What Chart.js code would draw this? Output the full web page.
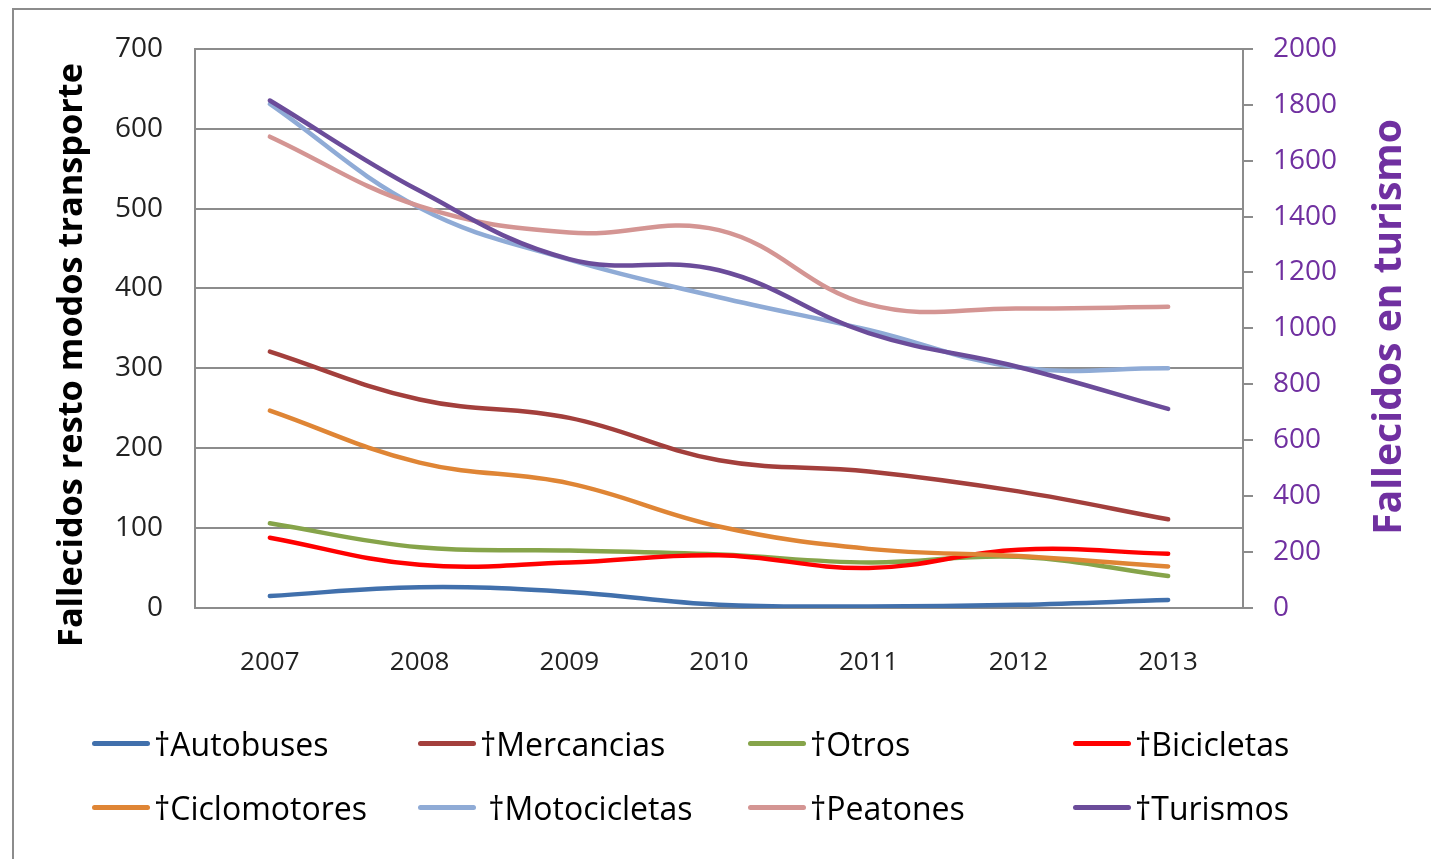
<!DOCTYPE html>
<html>
<head>
<meta charset="utf-8">
<script src="https://cdn.jsdelivr.net/npm/chart.js@4.4.0/dist/chart.umd.min.js"></script>
<style>
  html, body { margin: 0; padding: 0; background: #fff; overflow: hidden; }
  #wrap { position: relative; width: 1431px; height: 859px; font-family: "Open Sans", sans-serif; }
  #frame { position: absolute; left: 12px; top: 8px; width: 1500px; height: 900px; border: 2px solid #8c8c8c; }
  #chartBox { position: absolute; left: 0; top: 0; width: 1431px; height: 859px; }
  .item { position: absolute; display: flex; align-items: center; font-size: 32px; color: #000; white-space: pre; }
  .swatch { width: 58px; height: 5px; border-radius: 3px; margin-right: 4px; }
</style>
</head>
<body>
<div id="wrap">
  <div id="frame"></div>
  <div id="chartBox"><canvas id="fallecidosChart"></canvas></div>
  <div id="legend"></div>
</div>
<script>
const years = ["2007", "2008", "2009", "2010", "2011", "2012", "2013"];

const autobuses = [15, 26, 20, 4, 2, 4, 10];
const mercancias = [321, 261, 238, 185, 171, 146, 111];
const otros = [106, 76, 72, 67, 57, 64, 40];
const bicicletas = [88, 54, 57, 66, 50, 73, 68];
const ciclomotores = [247, 182, 156, 102, 74, 65, 52];
const motocicletas = [631, 501, 436, 389, 348, 301, 300];
const peatones = [590, 503, 470, 473, 380, 375, 377];
// right axis
const turismos = [1815, 1492, 1248, 1208, 983, 862, 712];

const seriesNames = ["†Autobuses", "†Mercancias", "†Otros", "†Bicicletas",
  "†Ciclomotores", " †Motocicletas", "†Peatones", "†Turismos"];
const seriesColors = ["#4170AC", "#A33F3C", "#86A44A", "#FF0000",
  "#DF8535", "#8FABD6", "#D49593", "#6B4C9A"];
const seriesData = [autobuses, mercancias, otros, bicicletas,
  ciclomotores, motocicletas, peatones, turismos];

const purple = "#7030A0";
const gridColor = "#8c8c8c";

const datasets = seriesData.map((d, i) => ({
  label: seriesNames[i].trim(),
  data: d,
  borderColor: seriesColors[i],
  backgroundColor: seriesColors[i],
  borderWidth: 4.5,
  borderCapStyle: "round",
  pointRadius: 0,
  tension: 0.4,
  fill: false,
  yAxisID: i === 7 ? "y1" : "y",
  order: 8 - i
}));

// draw a rotated title, sized so it spans the given length
function drawTitle(ctx, text, x, y, len, color) {
  ctx.save();
  ctx.font = "bold 30px 'Open Sans'";
  const size = 30 * len / ctx.measureText(text).width;
  ctx.font = "bold " + size.toFixed(1) + "px 'Open Sans'";
  ctx.textAlign = "center";
  ctx.textBaseline = "middle";
  ctx.fillStyle = color;
  ctx.translate(x, y);
  ctx.rotate(-Math.PI / 2);
  ctx.fillText(text, 0, 0);
  ctx.restore();
}

const axisTitles = {
  id: "axisTitles",
  afterDraw(chart) {
    drawTitle(chart.ctx, "Fallecidos resto modos transporte", 72, 355, 584, "#000");
    drawTitle(chart.ctx, "Fallecidos en turismo", 1390, 327, 416, purple);
  }
};

const fallecidosChart = new Chart(document.getElementById("fallecidosChart"), {
  type: "line",
  data: { labels: years, datasets: datasets },
  options: {
    responsive: true,
    maintainAspectRatio: false,
    animation: false,
    devicePixelRatio: 1,
    layout: { padding: { top: 47, left: 0, right: 0, bottom: 0 } },
    plugins: { legend: { display: false }, tooltip: { enabled: false } },
    scales: {
      x: {
        offset: true,
        grid: { display: false, drawTicks: false },
        border: { display: true, color: gridColor, width: 2 },
        ticks: { color: "#222", font: { family: "Open Sans", size: 26 }, padding: 39 },
        afterFit: s => { s.height = 251; }
      },
      y: {
        min: 0, max: 700,
        ticks: { stepSize: 100, color: "#222", font: { family: "Open Sans", size: 28 }, padding: 32 },
        grid: { color: gridColor, lineWidth: 2, drawTicks: false },
        border: { display: true, color: gridColor, width: 2 },
        afterFit: s => { s.width = 195; }
      },
      y1: {
        position: "right",
        min: 0, max: 2000,
        ticks: {
          stepSize: 200, color: purple, font: { family: "Open Sans", size: 28 }, padding: 20,
          callback: v => String(v)
        },
        grid: { drawOnChartArea: false, color: gridColor, lineWidth: 2, tickLength: 10 },
        border: { display: true, color: gridColor, width: 2 },
        afterFit: s => { s.width = 188; }
      }
    }
  },
  plugins: [axisTitles]
});

// legend: 2 rows x 4 columns
const legendCols = [92, 418, 748, 1073];
const legendRows = [743, 807];
const legendEl = document.getElementById("legend");
seriesNames.forEach((name, i) => {
  const item = document.createElement("div");
  item.className = "item";
  item.style.left = legendCols[i % 4] + "px";
  item.style.top = (legendRows[Math.floor(i / 4)] - 22) + "px";
  item.style.height = "44px";
  item.innerHTML = '<div class="swatch" style="background:' + seriesColors[i] + '"></div><span>' + name + '</span>';
  legendEl.appendChild(item);
});
</script>
</body>
</html>
